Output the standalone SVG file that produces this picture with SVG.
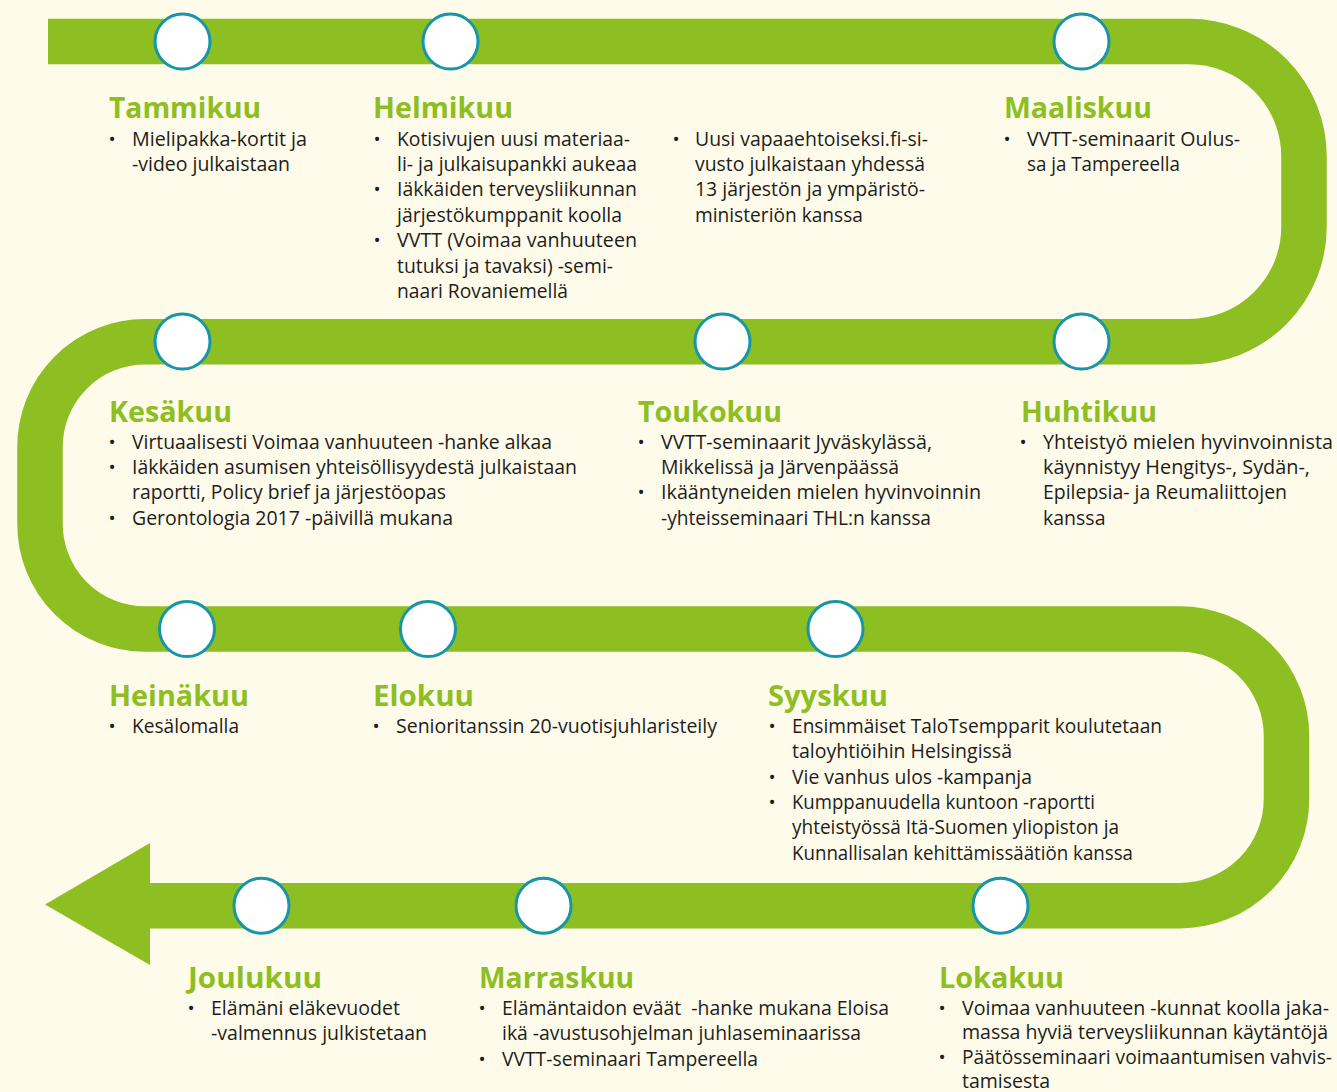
<svg xmlns="http://www.w3.org/2000/svg" width="1337" height="1092" viewBox="0 0 1337 1092">
<style>
.bg{fill:#FEFBEA}
.track{fill:none;stroke:#8DBE22;stroke-width:45.5;stroke-linecap:butt;stroke-linejoin:round}
.head{fill:#8DBE22}
.dot{fill:#FFFFFF;stroke:#1796A8;stroke-width:3}
.t{font-family:"Open Sans","Noto Sans","Liberation Sans",sans-serif;font-weight:700;font-size:28px;fill:#8DBE22}
.b{font-family:"Open Sans","Noto Sans","Liberation Sans",sans-serif;font-size:19.5px;fill:#1d1d1b}
.u{font-family:"Open Sans","Noto Sans","Liberation Sans",sans-serif;font-size:19px;fill:#1d1d1b;text-anchor:middle}
</style>
<rect class="bg" x="0" y="0" width="1337" height="1092"/>
<g id="connectors">
<path class="track" d="M48,41.5 H1189 A115,115 0 0 1 1304,156.5 V226.8 A115,115 0 0 1 1189,341.8 H145 A105,105 0 0 0 40,446.8 V524 A105,105 0 0 0 145,629 H1179.5 A107,107 0 0 1 1286.5,736 V798.7 A107,107 0 0 1 1179.5,905.7 H148"/>
<polygon class="head" points="150,843 45,904.5 150,965"/>
</g>
<g id="markers">
<circle class="dot" cx="182.5" cy="41.5" r="27.5"/>
<circle class="dot" cx="450.5" cy="41.5" r="27.5"/>
<circle class="dot" cx="1081.5" cy="41.5" r="27.5"/>
<circle class="dot" cx="182.5" cy="341.5" r="27.5"/>
<circle class="dot" cx="722.5" cy="341.5" r="27.5"/>
<circle class="dot" cx="1081.5" cy="341.5" r="27.5"/>
<circle class="dot" cx="187" cy="629" r="27.5"/>
<circle class="dot" cx="428" cy="629" r="27.5"/>
<circle class="dot" cx="835.5" cy="629" r="27.5"/>
<circle class="dot" cx="261.5" cy="905.7" r="27.5"/>
<circle class="dot" cx="543.5" cy="905.7" r="27.5"/>
<circle class="dot" cx="1000.5" cy="905.7" r="27.5"/>
</g>
<g id="tammikuu">
<text class="t" x="109" y="118.3" textLength="152" lengthAdjust="spacingAndGlyphs">Tammikuu</text>
<text class="u" x="112" y="145.5">•</text>
<text class="b" x="132" y="145.5" textLength="175" lengthAdjust="spacingAndGlyphs">Mielipakka-kortit ja</text>
<text class="b" x="132" y="170.9" textLength="158" lengthAdjust="spacingAndGlyphs">-video julkaistaan</text>
</g>
<g id="helmikuu">
<text class="t" x="373" y="118.3" textLength="140" lengthAdjust="spacingAndGlyphs">Helmikuu</text>
<text class="u" x="377" y="145.5">•</text>
<text class="b" x="397" y="145.5" textLength="233" lengthAdjust="spacingAndGlyphs">Kotisivujen uusi materiaa-</text>
<text class="b" x="397" y="170.9" textLength="240" lengthAdjust="spacingAndGlyphs">li- ja julkaisupankki aukeaa</text>
<text class="u" x="377" y="196.3">•</text>
<text class="b" x="397" y="196.3" textLength="240" lengthAdjust="spacingAndGlyphs">Iäkkäiden terveysliikunnan</text>
<text class="b" x="397" y="221.7" textLength="225" lengthAdjust="spacingAndGlyphs">järjestökumppanit koolla</text>
<text class="u" x="377" y="247.1">•</text>
<text class="b" x="397" y="247.1" textLength="240" lengthAdjust="spacingAndGlyphs">VVTT (Voimaa vanhuuteen</text>
<text class="b" x="397" y="272.5" textLength="216" lengthAdjust="spacingAndGlyphs">tutuksi ja tavaksi) -semi-</text>
<text class="b" x="397" y="297.9" textLength="171" lengthAdjust="spacingAndGlyphs">naari Rovaniemellä</text>
</g>
<g id="vapaaehtoiseksi">
<text class="u" x="676" y="145.5">•</text>
<text class="b" x="695" y="145.5" textLength="233" lengthAdjust="spacingAndGlyphs">Uusi vapaaehtoiseksi.fi-si-</text>
<text class="b" x="695" y="170.9" textLength="230" lengthAdjust="spacingAndGlyphs">vusto julkaistaan yhdessä</text>
<text class="b" x="695" y="196.3" textLength="230" lengthAdjust="spacingAndGlyphs">13 järjestön ja ympäristö-</text>
<text class="b" x="695" y="221.7" textLength="168" lengthAdjust="spacingAndGlyphs">ministeriön kanssa</text>
</g>
<g id="maaliskuu">
<text class="t" x="1004" y="118.3" textLength="148" lengthAdjust="spacingAndGlyphs">Maaliskuu</text>
<text class="u" x="1007" y="145.5">•</text>
<text class="b" x="1027" y="145.5" textLength="213" lengthAdjust="spacingAndGlyphs">VVTT-seminaarit Oulus-</text>
<text class="b" x="1027" y="170.9" textLength="153" lengthAdjust="spacingAndGlyphs">sa ja Tampereella</text>
</g>
<g id="kesakuu">
<text class="t" x="109" y="421.7" textLength="123" lengthAdjust="spacingAndGlyphs">Kesäkuu</text>
<text class="u" x="112" y="448.5">•</text>
<text class="b" x="132" y="448.5" textLength="420" lengthAdjust="spacingAndGlyphs">Virtuaalisesti Voimaa vanhuuteen -hanke alkaa</text>
<text class="u" x="112" y="473.9">•</text>
<text class="b" x="132" y="473.9" textLength="445" lengthAdjust="spacingAndGlyphs">Iäkkäiden asumisen yhteisöllisyydestä julkaistaan</text>
<text class="b" x="132" y="499.3" textLength="314" lengthAdjust="spacingAndGlyphs">raportti, Policy brief ja järjestöopas</text>
<text class="u" x="112" y="524.7">•</text>
<text class="b" x="132" y="524.7" textLength="321" lengthAdjust="spacingAndGlyphs">Gerontologia 2017 -päivillä mukana</text>
</g>
<g id="toukokuu">
<text class="t" x="638" y="421.7" textLength="144" lengthAdjust="spacingAndGlyphs">Toukokuu</text>
<text class="u" x="641" y="448.5">•</text>
<text class="b" x="661" y="448.5" textLength="271" lengthAdjust="spacingAndGlyphs">VVTT-seminaarit Jyväskylässä,</text>
<text class="b" x="661" y="473.9" textLength="238" lengthAdjust="spacingAndGlyphs">Mikkelissä ja Järvenpäässä</text>
<text class="u" x="641" y="499.3">•</text>
<text class="b" x="661" y="499.3" textLength="320" lengthAdjust="spacingAndGlyphs">Ikääntyneiden mielen hyvinvoinnin</text>
<text class="b" x="661" y="524.7" textLength="270" lengthAdjust="spacingAndGlyphs">-yhteisseminaari THL:n kanssa</text>
</g>
<g id="huhtikuu">
<text class="t" x="1021" y="421.7" textLength="136" lengthAdjust="spacingAndGlyphs">Huhtikuu</text>
<text class="u" x="1023" y="448.5">•</text>
<text class="b" x="1043" y="448.5" textLength="290" lengthAdjust="spacingAndGlyphs">Yhteistyö mielen hyvinvoinnista</text>
<text class="b" x="1043" y="473.9" textLength="267" lengthAdjust="spacingAndGlyphs">käynnistyy Hengitys-, Sydän-,</text>
<text class="b" x="1043" y="499.3" textLength="244" lengthAdjust="spacingAndGlyphs">Epilepsia- ja Reumaliittojen</text>
<text class="b" x="1043" y="524.7">kanssa</text>
</g>
<g id="heinakuu">
<text class="t" x="109" y="705.5" textLength="140" lengthAdjust="spacingAndGlyphs">Heinäkuu</text>
<text class="u" x="112" y="732.7">•</text>
<text class="b" x="132" y="732.7" textLength="107" lengthAdjust="spacingAndGlyphs">Kesälomalla</text>
</g>
<g id="elokuu">
<text class="t" x="373" y="705.5" textLength="101" lengthAdjust="spacingAndGlyphs">Elokuu</text>
<text class="u" x="376" y="732.7">•</text>
<text class="b" x="396" y="732.7" textLength="321" lengthAdjust="spacingAndGlyphs">Senioritanssin 20-vuotisjuhlaristeily</text>
</g>
<g id="syyskuu">
<text class="t" x="768" y="705.5" textLength="120" lengthAdjust="spacingAndGlyphs">Syyskuu</text>
<text class="u" x="772" y="732.7">•</text>
<text class="b" x="792" y="732.7" textLength="370" lengthAdjust="spacingAndGlyphs">Ensimmäiset TaloTsempparit koulutetaan</text>
<text class="b" x="792" y="758.1" textLength="220" lengthAdjust="spacingAndGlyphs">taloyhtiöihin Helsingissä</text>
<text class="u" x="772" y="783.5">•</text>
<text class="b" x="792" y="783.5" textLength="240" lengthAdjust="spacingAndGlyphs">Vie vanhus ulos -kampanja</text>
<text class="u" x="772" y="808.9">•</text>
<text class="b" x="792" y="808.9" textLength="303" lengthAdjust="spacingAndGlyphs">Kumppanuudella kuntoon -raportti</text>
<text class="b" x="792" y="834.3" textLength="327" lengthAdjust="spacingAndGlyphs">yhteistyössä Itä-Suomen yliopiston ja</text>
<text class="b" x="792" y="859.7" textLength="341" lengthAdjust="spacingAndGlyphs">Kunnallisalan kehittämissäätiön kanssa</text>
</g>
<g id="joulukuu">
<text class="t" x="188" y="988.3" textLength="134" lengthAdjust="spacingAndGlyphs">Joulukuu</text>
<text class="u" x="191" y="1015">•</text>
<text class="b" x="211" y="1015" textLength="189" lengthAdjust="spacingAndGlyphs">Elämäni eläkevuodet</text>
<text class="b" x="211" y="1040.4" textLength="216" lengthAdjust="spacingAndGlyphs">-valmennus julkistetaan</text>
</g>
<g id="marraskuu">
<text class="t" x="479" y="988.3" textLength="155" lengthAdjust="spacingAndGlyphs">Marraskuu</text>
<text class="u" x="482" y="1015">•</text>
<text class="b" x="502" y="1015" textLength="387" lengthAdjust="spacingAndGlyphs" xml:space="preserve">Elämäntaidon eväät  -hanke mukana Eloisa</text>
<text class="b" x="502" y="1040.4" textLength="359" lengthAdjust="spacingAndGlyphs">ikä -avustusohjelman juhlaseminaarissa</text>
<text class="u" x="482" y="1065.8">•</text>
<text class="b" x="502" y="1065.8" textLength="256" lengthAdjust="spacingAndGlyphs">VVTT-seminaari Tampereella</text>
</g>
<g id="lokakuu">
<text class="t" x="939" y="988.3" textLength="125" lengthAdjust="spacingAndGlyphs">Lokakuu</text>
<text class="u" x="942" y="1014.5">•</text>
<text class="b" x="962" y="1014.5" textLength="367" lengthAdjust="spacingAndGlyphs">Voimaa vanhuuteen -kunnat koolla jaka-</text>
<text class="b" x="962" y="1039.1" textLength="366" lengthAdjust="spacingAndGlyphs">massa hyviä terveysliikunnan käytäntöjä</text>
<text class="u" x="942" y="1063.7">•</text>
<text class="b" x="962" y="1063.7" textLength="370" lengthAdjust="spacingAndGlyphs">Päätösseminaari voimaantumisen vahvis-</text>
<text class="b" x="962" y="1088.3">tamisesta</text>
</g>
</svg>
